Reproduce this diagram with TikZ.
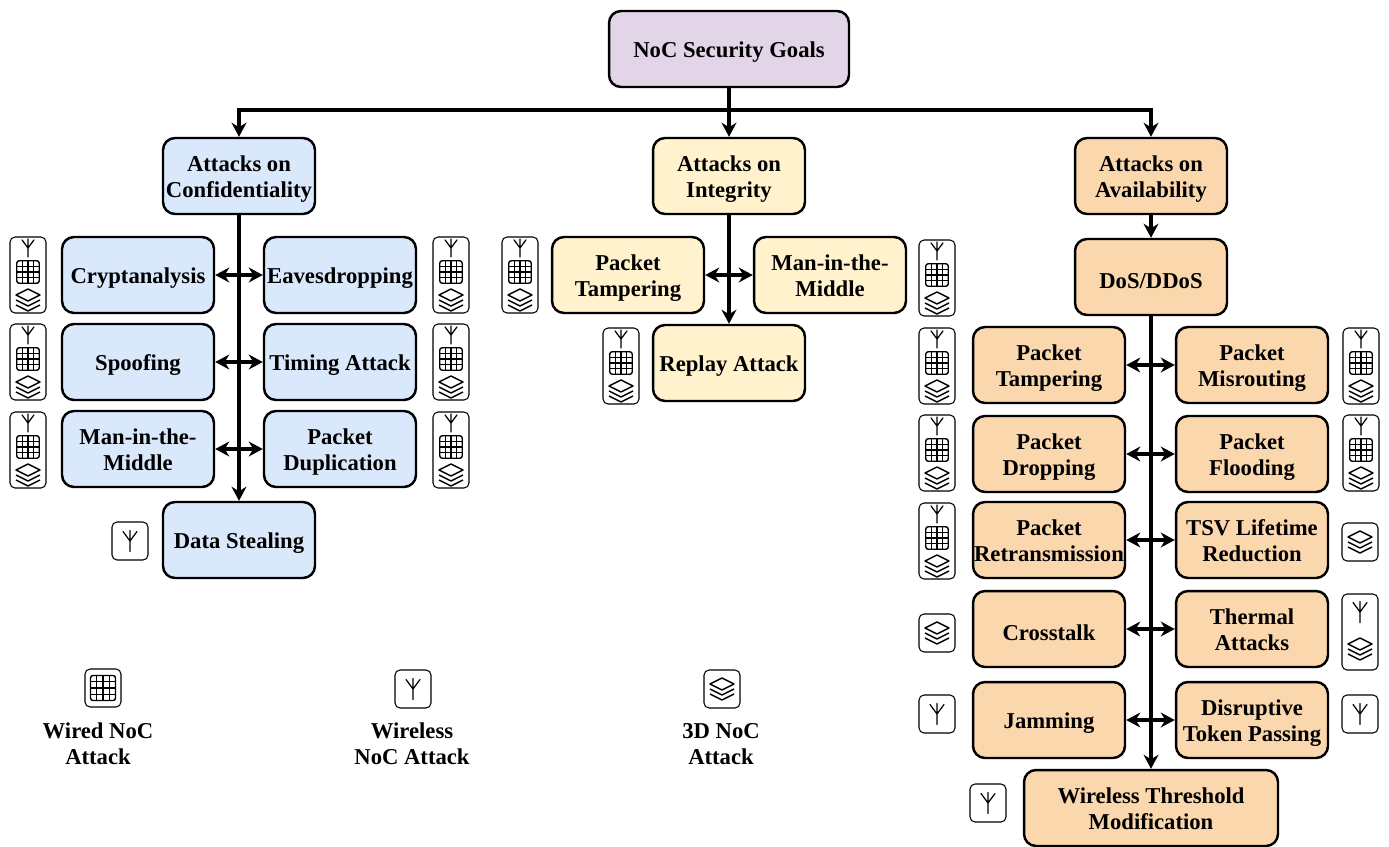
\documentclass[tikz,border=0pt]{standalone}
\usepackage{fontspec}
\setmainfont{Liberation Serif}
\usetikzlibrary{arrows.meta}
\definecolor{goalfill}{HTML}{E1D5E7}
\definecolor{conffill}{HTML}{DAE8FC}
\definecolor{integfill}{HTML}{FFF2CC}
\definecolor{availfill}{HTML}{FAD7AC}
\tikzset{
  attackbox/.style={draw, line width=1.4pt, rounded corners=0.24cm, minimum width=3.04cm, minimum height=1.52cm, inner sep=0pt, align=center, font=\fontsize{12.9}{15}\selectfont\bfseries, execute at begin node={\rule{0pt}{13pt}}},
  twolines/.style={attackbox, text height=24.8pt, text depth=0pt},
  iconbox/.style={draw, line width=0.6pt, rounded corners=0.1cm, minimum width=0.72cm, inner sep=0pt},
  tallicon/.style={iconbox, minimum height=1.52cm},
  shorticon/.style={iconbox, minimum height=0.76cm},
  legendtext/.style={align=center, font=\fontsize{12.9}{15}\selectfont\bfseries},
  trunk/.style={line width=1.8pt, -{Stealth[length=8pt,width=8.5pt]}},
  link/.style={line width=1.8pt, {Stealth[length=8pt,width=8.5pt]}-{Stealth[length=8pt,width=8.5pt]}},
  antenna/.pic={
    \draw[line width=0.7pt, line cap=round] (0,10.5) -- (0,-10.5) (-7,-9.5) -- (0,0) -- (7,-9.5);
  },
  gridicon/.pic={
    \draw[line width=0.8pt, rounded corners=0.05cm] (-12.5,-12.5) rectangle (12.5,12.5);
    \draw[line width=0.6pt] (-6.25,-12.5) -- (-6.25,12.5) (0,-12.5) -- (0,12.5) (6.25,-12.5) -- (6.25,12.5) (-12.5,-6.25) -- (12.5,-6.25) (-12.5,0) -- (12.5,0) (-12.5,6.25) -- (12.5,6.25);
  },
  stackicon/.pic={
    \draw[line width=0.8pt, line join=round] (-12,-5) -- (0,-11) -- (12,-5) -- (0,1) -- cycle;
    \draw[line width=0.8pt, line join=round] (-12,0) -- (0,6) -- (12,0);
    \draw[line width=0.8pt, line join=round] (-12,5) -- (0,11) -- (12,5);
  },
  allthree/.pic={
    \node[tallicon] (-box) at (0,0) {};
    \pic[scale=0.85] at (0,-27) {antenna};
    \pic[scale=0.9] at (0,-3) {gridicon};
    \pic at (0,25) {stackicon};
  },
  wiredonly/.pic={
    \node[shorticon] (-box) at (0,0) {};
    \pic at (0,0) {gridicon};
  },
  wirelessonly/.pic={
    \node[shorticon] (-box) at (0,0) {};
    \pic at (0,0) {antenna};
  },
  stackonly/.pic={
    \node[shorticon] (-box) at (0,0) {};
    \pic at (0,0) {stackicon};
  },
  wirelessstack/.pic={
    \node[tallicon] (-box) at (0,0) {};
    \pic at (0,-20) {antenna};
    \pic at (0,17) {stackicon};
  },
}
\begin{document}
\begin{tikzpicture}[x=0.02cm,y=-0.02cm]
\useasboundingbox (0,0) rectangle (1389,846);

\node[attackbox, fill=goalfill, minimum width=4.8cm] (goals) at (729,49) {NoC Security Goals};
\node[twolines, fill=conffill] (conf) at (239,176) {Attacks on\\Confidentiality};
\node[twolines, fill=integfill] (integ) at (729,176) {Attacks on\\Integrity};
\node[twolines, fill=availfill] (avail) at (1151,176) {Attacks on\\Availability};
\coordinate (split) at (729,110);
\draw[trunk] (goals.south) -- (integ.north);
\draw[trunk] (split) -| (conf.north);
\draw[trunk] (split) -| (avail.north);

% confidentiality
\node[attackbox, fill=conffill] (crypt) at (138,275) {Cryptanalysis};
\node[attackbox, fill=conffill] (eaves) at (340,275) {Eavesdropping};
\node[attackbox, fill=conffill] (spoof) at (138,362) {Spoofing};
\node[attackbox, fill=conffill] (timing) at (340,362) {Timing Attack};
\node[twolines, fill=conffill] (confmitm) at (138,449) {Man-in-the-\\Middle};
\node[twolines, fill=conffill] (dup) at (340,449) {Packet\\Duplication};
\node[attackbox, fill=conffill] (steal) at (239,540) {Data Stealing};
\draw[trunk] (conf.south) -- (steal.north);
\draw[link] (crypt.east) -- (eaves.west);
\draw[link] (spoof.east) -- (timing.west);
\draw[link] (confmitm.east) -- (dup.west);
\pic (icrypt) at (28,275) {allthree};
\pic (ieaves) at (451,275) {allthree};
\pic (ispoof) at (28,362) {allthree};
\pic (itiming) at (451,362) {allthree};
\pic (iconfmitm) at (28,450) {allthree};
\pic (idup) at (451,450) {allthree};
\pic (isteal) at (130,541) {wirelessonly};

% integrity
\node[twolines, fill=integfill] (tamper) at (628,275) {Packet\\Tampering};
\node[twolines, fill=integfill] (integmitm) at (830,275) {Man-in-the-\\Middle};
\node[attackbox, fill=integfill] (replay) at (729,363) {Replay Attack};
\draw[trunk] (integ.south) -- (replay.north);
\draw[link] (tamper.east) -- (integmitm.west);
\pic (itamper) at (520,275) {allthree};
\pic (iintegmitm) at (937,278) {allthree};
\pic (ireplay) at (621,366) {allthree};

% availability
\node[attackbox, fill=availfill] (dos) at (1151,277) {DoS/DDoS};
\draw[trunk] (avail.south) -- (dos.north);
\node[twolines, fill=availfill] (tamperb) at (1049,365) {Packet\\Tampering};
\node[twolines, fill=availfill] (misroute) at (1252,365) {Packet\\Misrouting};
\node[twolines, fill=availfill] (drop) at (1049,454) {Packet\\Dropping};
\node[twolines, fill=availfill] (flood) at (1252,454) {Packet\\Flooding};
\node[twolines, fill=availfill] (retrans) at (1049,540) {Packet\\Retransmission};
\node[twolines, fill=availfill] (tsv) at (1252,540) {TSV Lifetime\\Reduction};
\node[attackbox, fill=availfill] (cross) at (1049,629) {Crosstalk};
\node[twolines, fill=availfill] (thermal) at (1252,629) {Thermal\\Attacks};
\node[attackbox, fill=availfill] (jam) at (1049,720) {Jamming};
\node[twolines, fill=availfill] (token) at (1252,720) {Disruptive\\Token Passing};
\node[twolines, fill=availfill, minimum width=5.08cm] (thresh) at (1151,808) {Wireless Threshold\\Modification};
\draw[trunk] (dos.south) -- (thresh.north);
\draw[link] (tamperb.east) -- (misroute.west);
\draw[link] (drop.east) -- (flood.west);
\draw[link] (retrans.east) -- (tsv.west);
\draw[link] (cross.east) -- (thermal.west);
\draw[link] (jam.east) -- (token.west);
\pic (itamperb) at (937,366) {allthree};
\pic (imisroute) at (1361,366) {allthree};
\pic (idrop) at (937,453) {allthree};
\pic (iflood) at (1361,453) {allthree};
\pic (iretrans) at (937,541) {allthree};
\pic (itsv) at (1360,542) {stackonly};
\pic (icross) at (937,633) {stackonly};
\pic (ithermal) at (1360,632) {wirelessstack};
\pic (ijam) at (937,714) {wirelessonly};
\pic (itoken) at (1360,714) {wirelessonly};
\pic (ithresh) at (988,803) {wirelessonly};

% legend
\pic (iwired) at (103,688) {wiredonly};
\pic (iwireless) at (413,689) {wirelessonly};
\pic (ithreed) at (722,689) {stackonly};
\node[legendtext] (wiredtext) at (98,744) {Wired NoC\\Attack};
\node[legendtext] (wirelesstext) at (412,744) {Wireless\\NoC Attack};
\node[legendtext] (threedtext) at (721,744) {3D NoC\\Attack};
\end{tikzpicture}
\end{document}
